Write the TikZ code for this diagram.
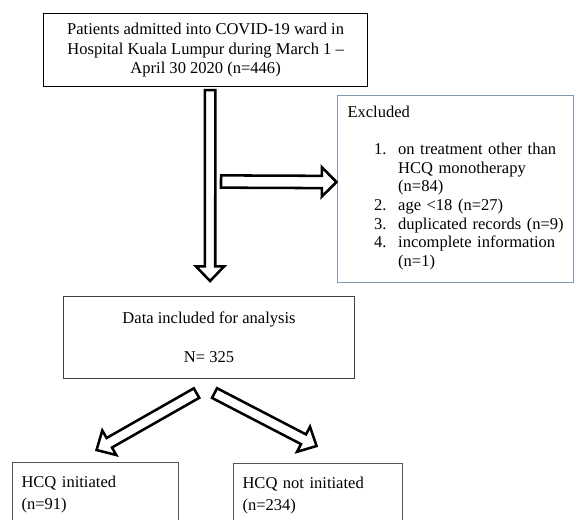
\documentclass[tikz,border=0pt]{standalone}
\usepackage{fontspec}
\setmainfont{Liberation Serif}
\usetikzlibrary{calc}
\definecolor{exline}{HTML}{8497B0}
\definecolor{dline}{HTML}{404040}
\definecolor{hline}{HTML}{555555}
\newcommand{\blockarr}[5]{% tail, tip, shaft half, head half, head length
  \coordinate (#1h) at ($(#2)!#5!(#1)$);
  \draw[barrow] ($(#1)!#3!90:(#2)$) -- ($(#1h)!#3!90:(#2)$) -- ($(#1h)!#4!90:(#2)$) -- (#2)
    -- ($(#1h)!#4!-90:(#2)$) -- ($(#1h)!#3!-90:(#2)$) -- ($(#1)!#3!-90:(#2)$) -- cycle;}
\begin{document}
\begin{tikzpicture}[x=0.75pt,y=-0.75pt,
  box/.style={draw=black, line width=0.9pt, inner sep=0pt, anchor=north west},
  txt/.style={font=\fontsize{12.4}{14.6}\selectfont},
  barrow/.style={draw=black, fill=white, line width=1.9pt, line join=miter}]
\useasboundingbox (0,0) rectangle (574,519);
\clip (0,0) rectangle (574,519);
\fill[white] (0,0) rectangle (574,519);

\node[box, txt, minimum width=243pt, minimum height=54.75pt, align=center] (top) at (43,13)
  {Patients admitted into COVID-19 ward in\\Hospital Kuala Lumpur during March 1 –\\April 30 2020 (n=446)};

\node[box, draw=exline, line width=0.8pt, minimum width=177pt, minimum height=140.25pt,
  text width=162pt, inner xsep=7.5pt, align=left,
  font=\fontsize{12.4}{13.9}\selectfont] (excl) at (337,95)
  {Excluded\\[13.9pt]
   \begin{tabular}[t]{@{\hspace{20pt}}p{18pt}@{}l@{}}
   1. & on treatment other than\\
      & HCQ monotherapy\\
      & (n=84)\\
   2. & age <18 (n=27)\\
   3. & duplicated records (n=9)\\
   4. & incomplete information\\
      & (n=1)
   \end{tabular}};

\node[box, txt, draw=dline, line width=0.8pt, minimum width=218.25pt, minimum height=61.5pt, align=center] (data) at (63,296)
  {Data included for analysis\\[14.6pt]N= 325};

\node[box, draw=hline, line width=0.8pt, minimum width=124.5pt, minimum height=48pt,
  text width=111pt, inner xsep=6.75pt, align=left,
  font=\fontsize{12.4}{16.5}\selectfont] (hcqa) at (12,462)
  {HCQ initiated\\(n=91)};

\node[box, draw=hline, line width=0.8pt, minimum width=126.75pt, minimum height=48pt,
  text width=113.25pt, inner xsep=6.75pt, align=left,
  font=\fontsize{12.4}{16.5}\selectfont] (hcqb) at (233,463)
  {HCQ not initiated\\(n=234)};

% arrow end points
\coordinate (dT) at ($(top.south)+(4.5,3)$);
\coordinate (dP) at ($(data.north)+(1,-15)$);
\coordinate (rT) at (221,181.5);
\coordinate (rP) at ($(excl.west)+(-0.5,-7)$);
\coordinate (lT) at ($(data.south)+(-12.5,14)$);
\coordinate (lP) at ($(hcqa.north)+(1,-12)$);
\coordinate (qT) at ($(data.south)+(5.5,14)$);
\coordinate (qP) at ($(hcqb.north)+(-1.5,-17)$);

\blockarr{dT}{dP}{3.9pt}{10.6pt}{11pt}
\blockarr{rT}{rP}{4.6pt}{11pt}{11pt}
\blockarr{lT}{lP}{4.1pt}{10.6pt}{11pt}
\blockarr{qT}{qP}{4.1pt}{10.6pt}{11pt}
\end{tikzpicture}
\end{document}
